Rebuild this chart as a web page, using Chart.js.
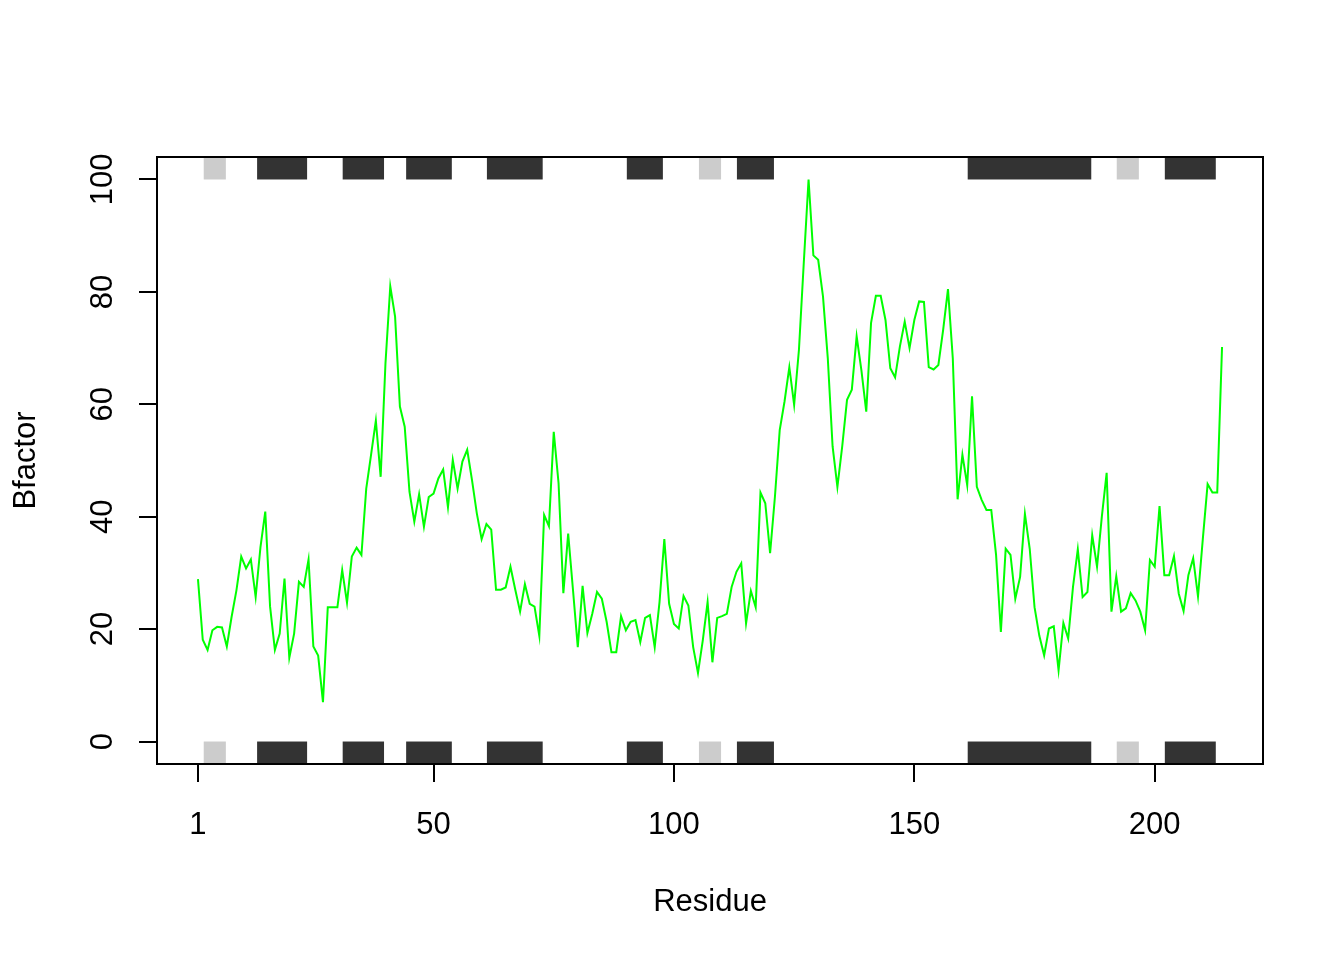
<!DOCTYPE html>
<html>
<head>
<meta charset="utf-8">
<script src="https://cdn.jsdelivr.net/npm/chart.js@4/dist/chart.umd.min.js"></script>
<style>
  html, body { margin: 0; padding: 0; background: #ffffff; }
  canvas { display: block; }
</style>
</head>
<body>
<canvas id="c" width="1344" height="960"></canvas>
<script>
// ---- data ----
const bfactor = [
  28.9, 18.1, 16.3, 19.8, 20.4, 20.3, 16.9, 22.2, 26.9, 32.9,
  30.8, 32.4, 25.7, 34.6, 40.9, 24.0, 16.3, 19.2, 29.0, 14.9,
  19.2, 28.4, 27.5, 32.4, 16.9, 15.3, 7.0, 23.9, 23.9, 23.9,
  30.5, 24.7, 32.9, 34.5, 33.2, 45.0, 51.0, 57.1, 47.1, 67.3,
  81.0, 75.6, 59.6, 56.0, 44.4, 39.1, 44.0, 38.2, 43.5, 44.1,
  46.8, 48.4, 41.7, 50.1, 45.0, 49.8, 51.9, 46.5, 40.6, 36.0,
  38.7, 37.7, 27.0, 27.0, 27.4, 31.1, 27.0, 23.1, 28.0, 24.5,
  24.0, 18.8, 40.3, 38.3, 55.1, 46.0, 26.4, 37.0, 27.0, 16.8,
  27.7, 19.3, 22.7, 26.6, 25.4, 21.3, 15.9, 15.9, 22.3, 19.8,
  21.3, 21.6, 17.7, 22.0, 22.5, 16.8, 24.8, 36.0, 24.5, 20.9,
  20.1, 25.9, 24.2, 16.8, 12.2, 18.0, 24.8, 14.1, 22.0, 22.3,
  22.7, 27.5, 30.2, 31.7, 21.0, 26.8, 23.9, 44.3, 42.4, 33.5,
  43.5, 55.4, 60.5, 66.6, 59.9, 69.7, 85.1, 100.0, 86.5, 85.7,
  79.2, 68.2, 52.5, 45.3, 52.5, 60.8, 62.6, 72.1, 66.0, 58.7,
  74.5, 79.3, 79.3, 75.0, 66.4, 64.8, 70.3, 74.7, 70.0, 75.0,
  78.3, 78.2, 66.6, 66.2, 67.0, 73.3, 80.5, 68.2, 43.1, 51.0,
  45.6, 61.4, 45.3, 43.0, 41.2, 41.2, 33.2, 19.5, 34.3, 33.2,
  25.4, 29.3, 40.5, 34.3, 23.9, 18.8, 15.3, 20.1, 20.5, 12.7,
  21.1, 18.3, 27.5, 34.2, 25.7, 26.6, 36.7, 31.1, 40.0, 47.8,
  23.1, 29.4, 23.1, 23.7, 26.4, 25.1, 23.1, 19.8, 32.3, 31.1,
  41.9, 29.6, 29.6, 33.0, 26.3, 23.2, 29.6, 32.6, 25.8, 36.0,
  45.8, 44.3, 44.3, 70.2
];
// residue numbers (1..N), one per B-factor value
const residues = bfactor.map((_, i) => i + 1);

// secondary structure elements (H = helix, E = strand)
const sseStart = [2.2, 13.3, 31.1, 44.3, 61.1, 90.2, 105.2, 113.1, 161.1, 192.1, 202.1];
const sseEnd   = [6.8, 23.7, 39.7, 53.8, 72.7, 97.7, 109.8, 120.8, 186.8, 196.7, 212.7];
const sseType  = ['E', 'H', 'H', 'H', 'H', 'H', 'E', 'H', 'H', 'E', 'H'];

const xTicks = [1, 50, 100, 150, 200];
const yTicks = [0, 20, 40, 60, 80, 100];

const xLabel = 'Residue';
const yLabel = 'Bfactor';

// ---- styling ----
const FONT = '31px "Liberation Sans", Arial, sans-serif';
const SSE_COLORS = { H: '#333333', E: '#cccccc' };

const ssePlugin = {
  id: 'sse',
  beforeDatasetsDraw(chart) {
    const ctx = chart.ctx;
    const xs = chart.scales.x, ys = chart.scales.y;
    const topA = ys.getPixelForValue(ys.max), topB = ys.getPixelForValue(100);
    const botA = ys.getPixelForValue(0), botB = ys.getPixelForValue(ys.min);
    ctx.save();
    for (let i = 0; i < sseStart.length; i++) {
      const x1 = xs.getPixelForValue(sseStart[i]);
      const x2 = xs.getPixelForValue(sseEnd[i]);
      ctx.fillStyle = SSE_COLORS[sseType[i]];
      ctx.fillRect(x1, topA, x2 - x1, topB - topA);
      ctx.fillRect(x1, botA, x2 - x1, botB - botA);
    }
    ctx.restore();
  }
};

const framePlugin = {
  id: 'frame',
  afterDraw(chart) {
    const ctx = chart.ctx;
    const a = chart.chartArea;
    const xs = chart.scales.x, ys = chart.scales.y;
    ctx.save();
    ctx.strokeStyle = '#000';
    ctx.lineWidth = 2;
    ctx.strokeRect(a.left, a.top, a.right - a.left, a.bottom - a.top);

    ctx.fillStyle = '#000';
    ctx.font = FONT;
    ctx.textBaseline = 'alphabetic';
    ctx.textAlign = 'center';
    xTicks.forEach(v => {
      ctx.fillText(String(v), xs.getPixelForValue(v), 834);
    });
    ctx.fillText(xLabel, (a.left + a.right) / 2, 911);

    yTicks.forEach(v => {
      ctx.save();
      ctx.translate(112, ys.getPixelForValue(v));
      ctx.rotate(-Math.PI / 2);
      ctx.fillText(String(v), 0, 0);
      ctx.restore();
    });
    ctx.save();
    ctx.translate(35, (a.top + a.bottom) / 2);
    ctx.rotate(-Math.PI / 2);
    ctx.fillText(yLabel, 0, 0);
    ctx.restore();
    ctx.restore();
  }
};

const gridOpts = {
  display: true,
  drawOnChartArea: false,
  drawTicks: true,
  tickLength: 18,
  color: '#000',
  lineWidth: 2
};

new Chart(document.getElementById('c'), {
  type: 'line',
  data: {
    datasets: [{
      data: residues.map((r, i) => ({ x: r, y: bfactor[i] })),
      borderColor: '#00ff00',
      borderWidth: 2,
      pointRadius: 0,
      tension: 0,
      fill: false
    }]
  },
  options: {
    responsive: false,
    animation: false,
    devicePixelRatio: 1,
    layout: { padding: { left: 0, right: 81, top: 157, bottom: 0 } },
    plugins: { legend: { display: false }, tooltip: { enabled: false } },
    scales: {
      x: {
        type: 'linear',
        min: -7.52,
        max: 222.52,
        afterBuildTicks: s => { s.ticks = xTicks.map(v => ({ value: v })); },
        afterFit: s => { s.height = 196; },
        ticks: { display: false },
        grid: gridOpts,
        border: { display: false }
      },
      y: {
        type: 'linear',
        min: -4,
        max: 104,
        afterBuildTicks: s => { s.ticks = yTicks.map(v => ({ value: v })); },
        afterFit: s => { s.width = 157; },
        ticks: { display: false },
        grid: gridOpts,
        border: { display: false }
      }
    }
  },
  plugins: [ssePlugin, framePlugin]
});
</script>
</body>
</html>
